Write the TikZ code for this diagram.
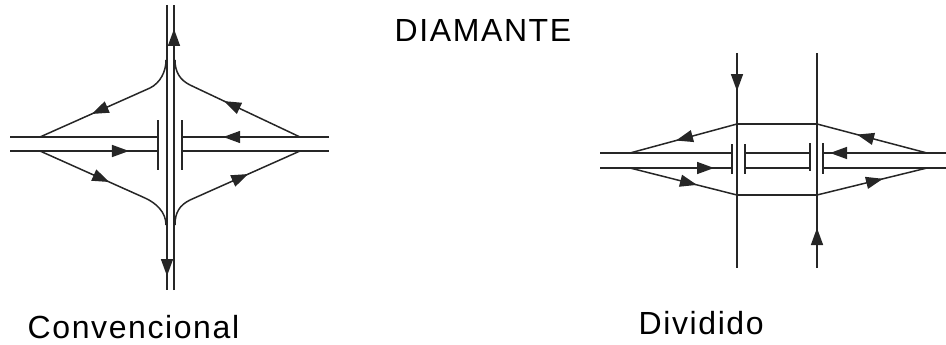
\documentclass[tikz,border=0pt]{standalone}
\usepackage{fontspec}
\setmainfont{Liberation Sans}
\newfontfamily\labelfont[LetterSpace=5]{Liberation Sans}
\usepackage{tikz}
\usetikzlibrary{arrows.meta, decorations.markings}

\begin{document}
\begin{tikzpicture}[
			x=1pt, y=-1pt,
			road/.style={line width=1.5pt, draw=black!85},
			flow/.style={road, postaction={decorate}, decoration={markings, mark=at position #1 with {\arrow{Triangle[length=17pt, width=12pt]}}}},
			title/.style={font=\labelfont\fontsize{32}{34}\selectfont, inner sep=0pt, anchor=base west}
			]
			\useasboundingbox (0, 0) rectangle (946, 345);
			
			% Labels
			\node[title] (diamante) at (394.5, 42) {DIAMANTE};
			\node[title] (convencional) at (27.5, 338) {Convencional};
			\node[title] (dividido) at (638.5, 334) {Dividido};
			
			% Conventional: main roads
			\draw[flow=0.951] (167, 5) -- (167, 290);
			\draw[flow=0.916] (174, 290) -- (174, 5);
			\draw[road] (10, 137) -- (158, 137);
			\draw[flow=0.804] (10, 151) -- (158, 151);
			\draw[flow=0.72] (329, 137) -- (182, 137);
			\draw[road] (182, 151) -- (329, 151);
			
			% Conventional: bridge
			\draw[road] (158, 120) -- (158, 170);
			\draw[road] (182, 120) -- (182, 170);
			
			% Conventional: ramps
			\draw[flow=0.53] (150, 88) -- (40, 137);
			\draw[flow=0.69] (300, 137) -- (190, 85);
			\draw[flow=0.66] (40, 151) -- (145, 198);
			\draw[flow=0.53] (190, 200) -- (300, 151);
			\draw[road] (166, 60) .. controls (166, 72) and (160, 83) .. (150, 88);
			\draw[road] (175, 60) .. controls (175, 72) and (180, 80) .. (190, 85);
			\draw[road] (145, 198) .. controls (156, 203) and (166, 212) .. (166, 225);
			\draw[road] (175, 225) .. controls (175, 212) and (180, 205) .. (190, 200);
			
			% Divided: main roads
			\draw[flow=0.177] (737, 53) -- (737, 268);
			\draw[flow=0.186] (817, 268) -- (817, 53);
			\draw[road] (600, 153) -- (732, 153);
			\draw[flow=0.864] (600, 168) -- (732, 168);
			\draw[road] (745, 153) -- (810, 153);
			\draw[road] (745, 168) -- (810, 168);
			\draw[flow=0.943] (946, 153) -- (823, 153);
			\draw[road] (823, 168) -- (946, 168);
			
			% Divided: bridges
			\draw[road] (732, 144) -- (732, 174);
			\draw[road] (745, 144) -- (745, 174);
			\draw[road] (810, 143) -- (810, 171);
			\draw[road] (823, 143) -- (823, 174);
			
			% Divided: ramps
			\draw[flow=0.57] (737, 124) -- (630, 153);
			\draw[flow=0.636] (927, 153) -- (817, 124);
			\draw[flow=0.626] (630, 168) -- (737, 195);
			\draw[flow=0.6] (817, 195) -- (927, 168);
			\draw[road] (737, 124) -- (817, 124);
			\draw[road] (737, 195) -- (817, 195);
		\end{tikzpicture}
\end{document}
